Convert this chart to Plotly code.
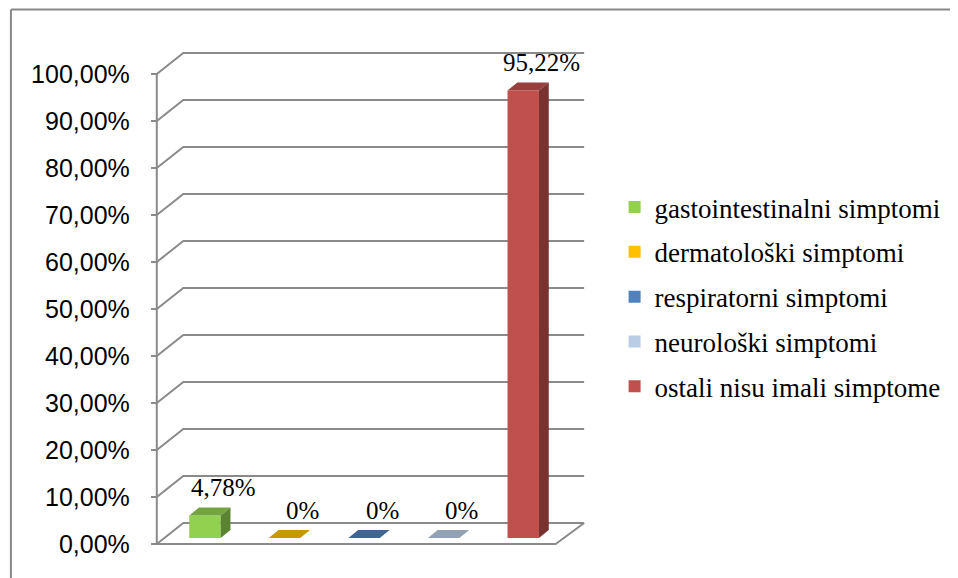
import plotly.graph_objects as go

# ---------------- data ----------------
categories = ["gastointestinalni simptomi", "dermatološki simptomi",
              "respiratorni simptomi", "neurološki simptomi",
              "ostali nisu imali simptome"]
values = [4.78, 0, 0, 0, 95.22]
value_labels = ["4,78%", "0%", "0%", "0%", "95,22%"]
colors = ["#92D050", "#FFC000", "#4F81BD", "#B9CDE5", "#C0504D"]
tick_values = [0, 10, 20, 30, 40, 50, 60, 70, 80, 90, 100]
tick_labels = ["0,00%", "10,00%", "20,00%", "30,00%", "40,00%", "50,00%",
               "60,00%", "70,00%", "80,00%", "90,00%", "100,00%"]

# ---------------- geometry (styles) ----------------
OFF = 8                                   # page body margin
W, H = 958 - OFF, 578 - OFF
L, R, T, B = 145 - OFF, 600 - OFF, 45 - OFF, 550 - OFF   # plot area in figure px
FLOOR_PX = 544 - OFF                      # pixel of 0 % on front plane
PX_PER_PCT = 4.7
CAT_PX = 81
X0_PX = 206 - OFF
AXIS_PX = 157 - OFF
xr = [(L - X0_PX) / CAT_PX, (R - X0_PX) / CAT_PX]
yr = [-(B - FLOOR_PX) / PX_PER_PCT, (FLOOR_PX - T) / PX_PER_PCT]

X_AXIS = (AXIS_PX - X0_PX) / CAT_PX
DX = 27 / CAT_PX                 # back-wall depth
DY = 21 / PX_PER_PCT
X_BACK_RIGHT = (592 - OFF - X0_PX) / CAT_PX
X_FRONT_RIGHT = (563 - OFF - X0_PX) / CAT_PX
BW = 32 / CAT_PX                 # bar width
BDX = 10 / CAT_PX                # bar depth
BDY = 8 / PX_PER_PCT
BASE = 6 / PX_PER_PCT            # bar baseline inside floor
GRID = "#8A8A8A"


def darken(h, f):
    h = h.lstrip("#")
    r, g, b = (int(h[k:k + 2], 16) for k in (0, 2, 4))
    return "#%02X%02X%02X" % (int(r * f), int(g * f), int(b * f))


def px_to_paper_x(px):
    return (px - OFF - L) / (R - L)


def px_to_paper_y(py):
    return (B - (py - OFF)) / (B - T)


fig = go.Figure()

# front faces of bars
for i, (cat, v, c) in enumerate(zip(categories, values, colors)):
    fig.add_trace(go.Bar(
        x=[i], y=[v], base=[BASE], width=[BW], name=cat,
        marker=dict(color=c, line=dict(width=0)),
        legendgroup=cat, showlegend=True, hoverinfo="skip",
    ))

shapes = []
# walls / gridlines
for tv in tick_values:
    shapes.append(dict(type="path", xref="x", yref="y", layer="below",
                       path=f"M{X_AXIS},{tv} L{X_AXIS + DX},{tv + DY} L{X_BACK_RIGHT},{tv + DY}",
                       line=dict(color=GRID, width=2)))
# floor front edge and right edge
shapes.append(dict(type="path", xref="x", yref="y", layer="below",
                   path=f"M{X_AXIS},0 L{X_FRONT_RIGHT},0 L{X_BACK_RIGHT},{DY}",
                   line=dict(color=GRID, width=2)))
# front vertical axis
shapes.append(dict(type="line", xref="x", yref="y", layer="below",
                   x0=X_AXIS, x1=X_AXIS, y0=0, y1=tick_values[-1],
                   line=dict(color=GRID, width=2)))

# top and side faces of bars
for i, (v, c) in enumerate(zip(values, colors)):
    x0, x1 = i - BW / 2, i + BW / 2
    y0, y1 = BASE, BASE + v
    shapes.append(dict(type="path", xref="x", yref="y", layer="above",
                       path=f"M{x0},{y1} L{x0 + BDX},{y1 + BDY} L{x1 + BDX},{y1 + BDY} L{x1},{y1} Z",
                       fillcolor=darken(c, 0.79), line=dict(width=0)))
    if v > 0:
        shapes.append(dict(type="path", xref="x", yref="y", layer="above",
                           path=f"M{x1},{y0} L{x1 + BDX},{y0 + BDY} L{x1 + BDX},{y1 + BDY} L{x1},{y1} Z",
                           fillcolor=darken(c, 0.63), line=dict(width=0)))

# outer frame (left and top edges)
shapes.append(dict(type="line", xref="paper", yref="paper",
                   x0=px_to_paper_x(8.5), x1=px_to_paper_x(8.5),
                   y0=px_to_paper_y(9.5), y1=px_to_paper_y(590),
                   line=dict(color="#878787", width=2)))
shapes.append(dict(type="line", xref="paper", yref="paper",
                   x0=px_to_paper_x(8.5), x1=px_to_paper_x(970),
                   y0=px_to_paper_y(9.5), y1=px_to_paper_y(9.5),
                   line=dict(color="#878787", width=2)))

annotations = []
for i, (v, lab) in enumerate(zip(values, value_labels)):
    annotations.append(dict(x=i + 0.23, y=BASE + v + BDY, xref="x", yref="y",
                            text=lab, showarrow=False, yanchor="middle",
                            yshift=20,
                            font=dict(family="Liberation Serif", size=25, color="black")))

fig.update_layout(
    width=W, height=H,
    margin=dict(l=L, r=W - R, t=T, b=H - B, pad=0),
    paper_bgcolor="white", plot_bgcolor="white",
    barmode="overlay",
    shapes=shapes, annotations=annotations,
    xaxis=dict(range=xr, visible=False, fixedrange=True),
    yaxis=dict(range=yr, anchor="free", position=px_to_paper_x(157),
               tickvals=tick_values, ticktext=tick_labels,
               ticks="outside", ticklen=6, tickwidth=2, tickcolor=GRID,
               ticklabelstandoff=16,
               showgrid=False, zeroline=False, showline=False,
               tickfont=dict(family="Liberation Sans", size=25, color="black")),
    legend=dict(x=px_to_paper_x(623), y=px_to_paper_y(183), xanchor="left", yanchor="top",
                traceorder="grouped", tracegroupgap=6.7, itemwidth=30,
                font=dict(family="Liberation Serif", size=27, color="black"),
                bgcolor="rgba(0,0,0,0)"),
    showlegend=True,
)

fig.write_html("out.html")
